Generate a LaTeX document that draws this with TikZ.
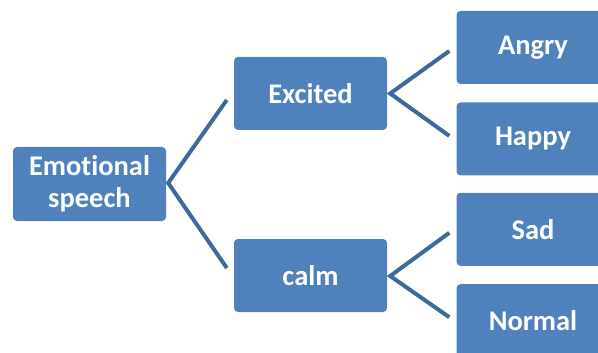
\documentclass[tikz,border=0pt]{standalone}
\usepackage{fontspec}
\setmainfont[Ligatures={NoCommon}]{Carlito}
\usetikzlibrary{positioning,calc}
\definecolor{boxblue}{HTML}{4F81BD}
\definecolor{linkblue}{HTML}{3D6A9C}
\tikzset{
  box/.style={rectangle,rounded corners=4pt,fill=boxblue,text=white,
    minimum width=153pt,minimum height=73pt,inner sep=0pt,align=center,
    font=\fontsize{28.5}{32}\selectfont\bfseries},
  link/.style={draw=linkblue,line width=4pt},
}

\begin{document}
\begin{tikzpicture}[x=1pt,y=-1pt]
  \useasboundingbox (0,0) rectangle (598,353);
  \node[box,minimum height=74pt] (emo) at (89.5,184) {Emotional\\speech};
  \node[box] (excited) at (310.5,93.5) {Excited};
  \node[box] (calm)    at (310.5,275.5) {calm};
  \node[box]                  (angry)  at (533,47.5) {Angry};
  \node[box,below=18pt of angry] (happy)  {Happy};
  \node[box,below=17pt of happy] (sad)    {Sad};
  \node[box,below=18pt of sad]   (normal) {Normal};
  % brackets
  \draw[link] ($(excited.west)+(-7,6.5)$) -- ($(emo.east)+(2,-1)$) -- ($(calm.west)+(-7,-7.5)$);
  \draw[link] ($(angry.west)+(-7,3.5)$) -- ($(excited.east)+(3,0)$) -- ($(happy.west)+(-7,-3)$);
  \draw[link] ($(sad.west)+(-7,3.5)$) -- ($(calm.east)+(3,0.5)$) -- ($(normal.west)+(-7,-3.5)$);
\end{tikzpicture}
\end{document}
